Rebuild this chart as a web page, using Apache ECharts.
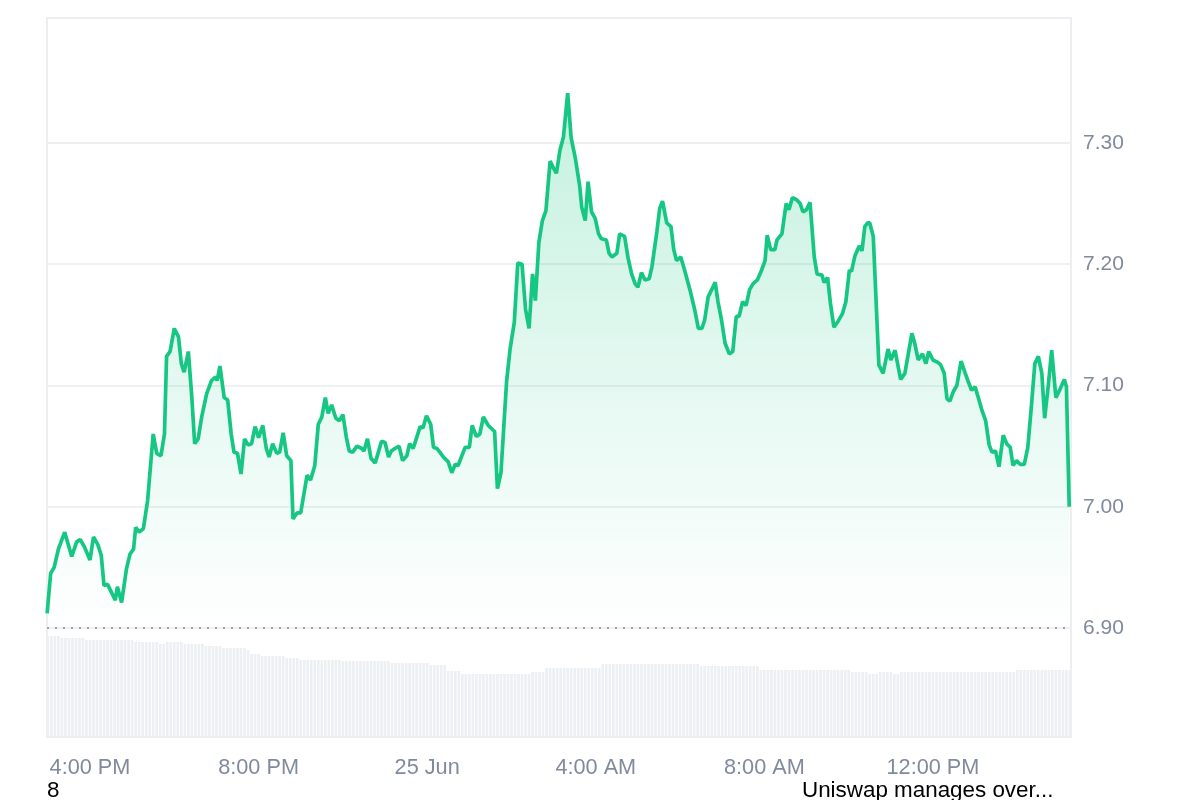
<!DOCTYPE html>
<html>
<head>
<meta charset="utf-8">
<script src="https://cdn.jsdelivr.net/npm/echarts@6/dist/echarts.min.js"></script>
<style>
html,body{margin:0;padding:0;background:#fff;}
#chart{width:1200px;height:800px;}
</style>
</head>
<body>
<div id="chart"></div>
<script>
// minutes since 3:00 PM (24 Jun)
const times = [
-1,4,9,15,24,34,41,46,52,60,
65,71,76,80,85,96,99,105,112,117,
122,125,130,136,142,150,155,161,166,169,
174,180,186,190,194,200,205,209,214,219,
226,233,239,241,245,251,256,261,265,270,
275,280,285,290,295,300,306,311,315,320,
326,330,335,340,346,349,355,360,369,374,
380,385,390,395,399,404,410,415,420,425,
429,434,440,447,450,455,460,466,470,475,
480,485,489,494,500,505,511,515,520,525,
530,534,539,545,549,554,558,563,570,575,
580,584,594,600,604,610,615,620,627,636,
640,645,653,658,664,669,675,680,685,690,
694,699,704,709,715,720,724,729,734,740,
745,751,757,760,765,769,774,779,784,788,
795,799,803,810,814,821,826,831,836,840,
845,850,856,860,867,871,875,881,887,891,
895,901,907,914,921,926,931,935,940,945,
950,954,959,964,970,975,980,984,989,994,
999,1004,1010,1016,1021,1024,1029,1035,1038,1045,
1051,1055,1060,1066,1071,1075,1080,1085,1091,1095,
1102,1105,1110,1114,1119,1125,1131,1136,1141,1144,
1149,1155,1159,1163,1167,1170,1175,1180,1183,1189,
1196,1200,1206,1214,1220,1230,1234,1239,1245,1250,
1254,1260,1267,1271,1276,1280,1284,1289,1294,1300,
1306,1311,1315,1320,1325,1330,1335,1340,1344,1349,
1354,1360,1365,1370,1374,1379,1384,1390,1395,1400,
1405,1410,1415,1419,1424,1429,1435,1441,1447,1450,
1454
];

const prices = [
6.912,6.945,6.950,6.965,6.979,6.959,6.971,6.973,6.967,6.956,
6.975,6.969,6.960,6.935,6.936,6.923,6.934,6.921,6.949,6.961,
6.965,6.983,6.979,6.982,7.005,7.060,7.044,7.042,7.060,7.124,
7.128,7.147,7.140,7.118,7.111,7.128,7.090,7.052,7.056,7.074,
7.093,7.104,7.107,7.104,7.116,7.090,7.088,7.060,7.045,7.044,
7.027,7.056,7.051,7.052,7.066,7.057,7.067,7.048,7.041,7.052,
7.044,7.045,7.061,7.042,7.038,6.990,6.995,6.995,7.026,7.022,
7.034,7.068,7.074,7.090,7.077,7.084,7.073,7.071,7.076,7.057,
7.046,7.045,7.050,7.048,7.046,7.056,7.040,7.036,7.044,7.054,
7.053,7.041,7.046,7.048,7.050,7.038,7.042,7.052,7.048,7.057,
7.066,7.065,7.075,7.068,7.049,7.048,7.045,7.041,7.037,7.028,
7.035,7.034,7.049,7.049,7.067,7.058,7.060,7.074,7.067,7.062,
7.015,7.028,7.103,7.130,7.152,7.201,7.200,7.163,7.147,7.192,
7.170,7.218,7.236,7.244,7.285,7.279,7.275,7.294,7.305,7.341,
7.304,7.287,7.265,7.247,7.236,7.268,7.243,7.238,7.225,7.221,
7.220,7.209,7.206,7.209,7.225,7.223,7.205,7.192,7.184,7.181,
7.193,7.187,7.188,7.198,7.227,7.246,7.252,7.234,7.231,7.212,
7.203,7.206,7.194,7.179,7.162,7.147,7.147,7.154,7.173,7.179,
7.185,7.169,7.154,7.135,7.126,7.128,7.157,7.157,7.169,7.166,
7.179,7.184,7.187,7.195,7.203,7.224,7.212,7.212,7.220,7.225,
7.250,7.245,7.255,7.253,7.250,7.243,7.245,7.251,7.206,7.192,
7.191,7.185,7.189,7.168,7.148,7.153,7.159,7.169,7.195,7.194,
7.207,7.215,7.211,7.231,7.234,7.234,7.223,7.157,7.117,7.110,
7.130,7.121,7.129,7.105,7.110,7.143,7.135,7.121,7.126,7.118,
7.128,7.121,7.119,7.117,7.110,7.089,7.087,7.095,7.100,7.120,
7.110,7.102,7.096,7.099,7.089,7.079,7.071,7.051,7.045,7.046,
7.033,7.059,7.052,7.049,7.034,7.038,7.035,7.035,7.049,7.082,
7.118,7.124,7.110,7.073,7.099,7.129,7.090,7.097,7.105,7.099,
7.000
];

// volume bars, one every 5 minutes (minutes since 3:00 PM)
const volTimes = [
0,5,10,15,20,25,30,35,40,45,50,55,
60,65,70,75,80,85,90,95,100,105,110,115,
120,125,130,135,140,145,150,155,160,165,170,175,
180,185,190,195,200,205,210,215,220,225,230,235,
240,245,250,255,260,265,270,275,280,285,290,295,
300,305,310,315,320,325,330,335,340,345,350,355,
360,365,370,375,380,385,390,395,400,405,410,415,
420,425,430,435,440,445,450,455,460,465,470,475,
480,485,490,495,500,505,510,515,520,525,530,535,
540,545,550,555,560,565,570,575,580,585,590,595,
600,605,610,615,620,625,630,635,640,645,650,655,
660,665,670,675,680,685,690,695,700,705,710,715,
720,725,730,735,740,745,750,755,760,765,770,775,
780,785,790,795,800,805,810,815,820,825,830,835,
840,845,850,855,860,865,870,875,880,885,890,895,
900,905,910,915,920,925,930,935,940,945,950,955,
960,965,970,975,980,985,990,995,1000,1005,1010,1015,
1020,1025,1030,1035,1040,1045,1050,1055,1060,1065,1070,1075,
1080,1085,1090,1095,1100,1105,1110,1115,1120,1125,1130,1135,
1140,1145,1150,1155,1160,1165,1170,1175,1180,1185,1190,1195,
1200,1205,1210,1215,1220,1225,1230,1235,1240,1245,1250,1255,
1260,1265,1270,1275,1280,1285,1290,1295,1300,1305,1310,1315,
1320,1325,1330,1335,1340,1345,1350,1355,1360,1365,1370,1375,
1380,1385,1390,1395,1400,1405,1410,1415,1420,1425,1430,1435,
1440,1445,1450,1455
];

const volumes = [
101,101,101,101,99,99,99,99,99,99,99,97,
97,97,97,97,97,97,97,97,97,97,97,97,
97,95,95,95,95,95,95,95,93,93,95,95,
95,95,95,93,93,93,93,93,93,91,91,91,
91,91,89,89,89,89,89,89,89,87,83,83,
83,81,81,81,81,81,81,81,79,79,79,79,
77,77,77,77,77,77,77,77,77,77,77,77,
76,76,76,76,76,76,76,76,76,76,76,76,
76,76,74,74,74,74,74,74,74,74,74,74,
74,72,72,72,72,72,66,66,66,66,63,63,
63,63,63,63,63,63,63,63,63,63,63,63,
63,63,63,63,63,63,65,65,65,65,69,69,
69,69,69,69,69,69,69,69,69,69,69,69,
69,69,73,73,73,73,73,73,73,73,73,73,
73,73,73,73,73,73,73,73,73,73,73,73,
73,73,73,73,73,73,71,71,71,71,71,71,
71,71,71,71,71,71,71,71,71,71,71,67,
67,67,67,67,67,67,67,67,67,67,67,67,
67,67,67,67,67,67,67,67,67,67,67,67,
67,65,65,65,65,65,63,63,63,65,65,65,
65,63,63,65,65,65,65,65,65,65,65,65,
65,65,65,65,65,65,65,65,65,65,65,65,
65,65,65,65,65,65,65,65,65,65,65,65,
67,67,67,67,67,67,67,67,67,67,67,67,
67,67,67,67
];

const openPrice = 6.903;
const yTicks = [6.9, 7.0, 7.1, 7.2, 7.3];
const tickValues = [60, 300, 540, 780, 1020, 1260];
const tickLabels = ['4:00 PM', '8:00 PM', '25 Jun', '4:00 AM', '8:00 AM', '12:00 PM'];

const priceData = times.map((t, i) => [t, prices[i]]);
const volData = volTimes.map((t, i) => [t, volumes[i]]);

const FONT = '"Liberation Sans", Arial, Helvetica, sans-serif';
const LABEL_COLOR = '#808a9d';
const X_MIN = -1.2, X_MAX = 1456.5;

const chart = echarts.init(document.getElementById('chart'), null, {renderer: 'canvas'});
chart.setOption({
  animation: false,
  grid: [
    {left: 47, top: 18, width: 1024, height: 610, show: true, borderColor: '#eceef1', borderWidth: 2, containLabel: false},
    {left: 47, top: 628, width: 1024, height: 109, show: true, borderColor: '#eceef1', borderWidth: 2, containLabel: false}
  ],
  xAxis: [
    {type: 'value', gridIndex: 0, min: X_MIN, max: X_MAX, show: false},
    {type: 'value', gridIndex: 1, min: X_MIN, max: X_MAX,
      axisLine: {show: false}, axisTick: {show: false, customValues: tickValues}, splitLine: {show: false},
      axisLabel: {
        customValues: tickValues,
        color: LABEL_COLOR, fontSize: 21.7, fontFamily: FONT, margin: 20,
        formatter: v => { const i = tickValues.indexOf(v); return i >= 0 ? tickLabels[i] : ''; }
      }
    }
  ],
  yAxis: [
    {type: 'value', gridIndex: 0, position: 'right', min: 6.9, max: 7.403,
      axisLine: {show: false},
      axisTick: {show: false, customValues: yTicks},
      splitLine: {show: true, lineStyle: {color: '#eef0f2', width: 2}},
      axisLabel: {customValues: yTicks, color: LABEL_COLOR, fontSize: 21, fontFamily: FONT, margin: 12,
        formatter: v => (v > 7.35 ? '' : v.toFixed(2))}
    },
    {type: 'value', gridIndex: 1, min: 0, max: 109, show: false, splitLine: {show: false}}
  ],
  series: [
    {
      type: 'bar', xAxisIndex: 1, yAxisIndex: 1, data: volData,
      barWidth: 2.7, itemStyle: {color: '#edf0f3'}, silent: true
    },
    {
      type: 'line', xAxisIndex: 0, yAxisIndex: 0, data: priceData,
      showSymbol: false, symbol: 'none',
      lineStyle: {color: '#16c784', width: 3.7},
      areaStyle: {
        color: new echarts.graphic.LinearGradient(0, 0, 0, 1, [
          {offset: 0, color: 'rgba(22,199,132,0.36)'},
          {offset: 1, color: 'rgba(22,199,132,0.0)'}
        ])
      },
      markLine: {
        silent: true, symbol: 'none', label: {show: false},
        lineStyle: {color: '#9ea3ab', type: [2, 6], width: 2},
        data: [{yAxis: openPrice}]
      }
    }
  ],
  graphic: [
    {type: 'text', left: 47, top: 780, style: {text: '8', font: '22.4px ' + FONT, fill: '#000'}},
    {type: 'text', left: 802, top: 780, style: {text: 'Uniswap manages over...', font: '22.4px ' + FONT, fill: '#000'}}
  ]
});
</script>
</body>
</html>
